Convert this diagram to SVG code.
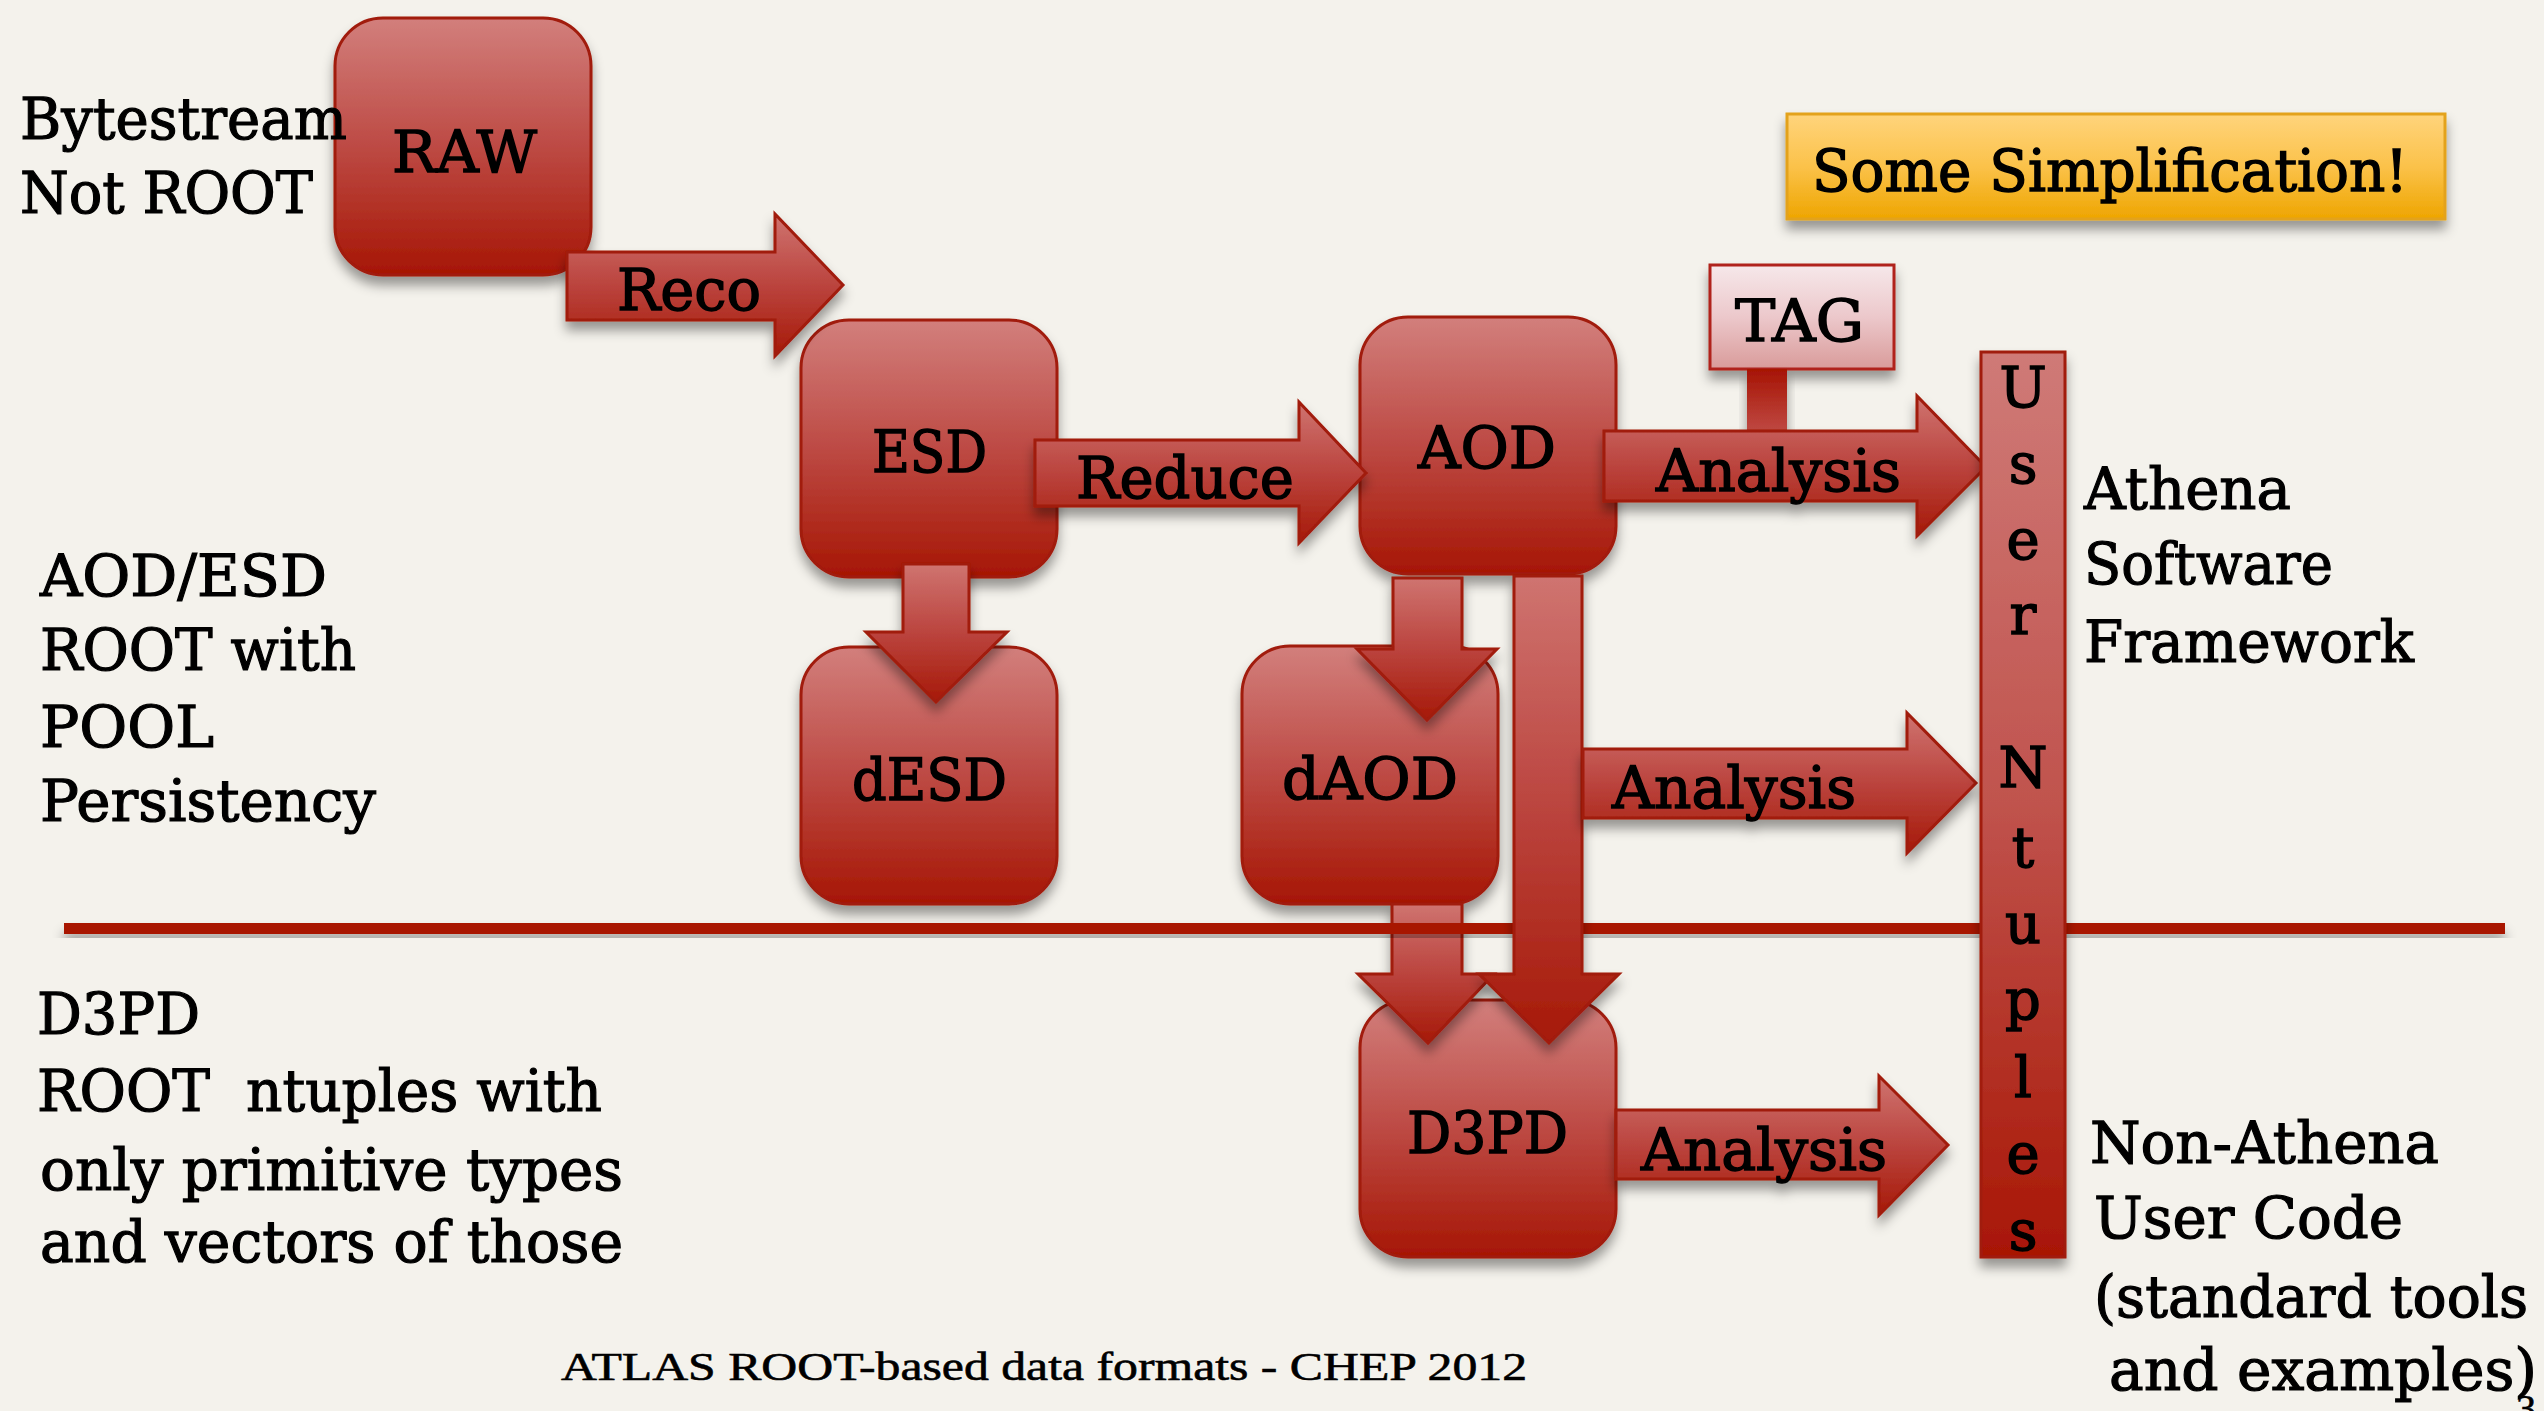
<svg xmlns="http://www.w3.org/2000/svg" width="2544" height="1411" viewBox="0 0 2544 1411">
<defs>
<linearGradient id="gBox" x1="0" y1="0" x2="0" y2="1">
<stop offset="0" stop-color="#d27f7c"/><stop offset="0.5" stop-color="#bd4a44"/><stop offset="1" stop-color="#a61604"/>
</linearGradient>
<linearGradient id="gArrow" x1="0" y1="0" x2="0" y2="1">
<stop offset="0" stop-color="#cf7470"/><stop offset="0.5" stop-color="#bb443e"/><stop offset="1" stop-color="#a61908"/>
</linearGradient>
<linearGradient id="gBar" x1="0" y1="0" x2="0" y2="1">
<stop offset="0" stop-color="#cf7a77"/><stop offset="0.5" stop-color="#c0534d"/><stop offset="1" stop-color="#a81605"/>
</linearGradient>
<linearGradient id="gTag" x1="0" y1="0" x2="0" y2="1">
<stop offset="0" stop-color="#f6e8ea"/><stop offset="0.5" stop-color="#ecc8cb"/><stop offset="1" stop-color="#d99b9a"/>
</linearGradient>
<linearGradient id="gStem" x1="0" y1="0" x2="0" y2="1">
<stop offset="0" stop-color="#a61404"/><stop offset="1" stop-color="#c04a44"/>
</linearGradient>
<linearGradient id="gNote" x1="0" y1="0" x2="0" y2="1">
<stop offset="0" stop-color="#ffd47c"/><stop offset="0.5" stop-color="#fbc24a"/><stop offset="1" stop-color="#eea500"/>
</linearGradient>
<filter id="sh" x="-20%" y="-20%" width="140%" height="150%">
<feDropShadow dx="0" dy="9" stdDeviation="6" flood-color="#000" flood-opacity="0.38"/>
</filter>
</defs>
<style>
.box{fill:url(#gBox);stroke:#a11a0b;stroke-width:3}
.arr{fill:url(#gArrow);stroke:#a11a0b;stroke-width:3;stroke-linejoin:miter}
.lbl{font-family:"DejaVu Serif",serif;font-size:58px;fill:#000;stroke:#000;stroke-width:1.4px}
.txt{font-family:"DejaVu Serif",serif;font-size:58px;fill:#000;stroke:#000;stroke-width:1.2px}
.bar{font-family:"DejaVu Serif",serif;font-size:56px;fill:#000;stroke:#000;stroke-width:1.4px;text-anchor:middle}
.foot{font-family:"Liberation Serif",serif;font-size:40px;fill:#000;stroke:#000;stroke-width:0.6px}
</style>
<rect width="2544" height="1411" fill="#f4f2ec"/>

<g id="note" filter="url(#sh)">
<rect x="1787" y="114" width="658" height="105" fill="url(#gNote)" stroke="#e3a21c" stroke-width="3"/>
<text class="lbl" x="1812" y="191" textLength="596" lengthAdjust="spacingAndGlyphs">Some Simplification!</text>
</g>

<g id="RAW" filter="url(#sh)">
<rect class="box" x="335" y="18" width="256" height="257" rx="48"/>
<text class="lbl" x="392" y="172" textLength="145" lengthAdjust="spacingAndGlyphs">RAW</text>
</g>
<g id="ESD" filter="url(#sh)">
<rect class="box" x="801" y="320" width="256" height="257" rx="48"/>
<text class="lbl" x="872" y="472" textLength="115" lengthAdjust="spacingAndGlyphs">ESD</text>
</g>
<g id="AOD" filter="url(#sh)">
<rect class="box" x="1360" y="317" width="256" height="257" rx="48"/>
<text class="lbl" x="1418" y="468" textLength="138" lengthAdjust="spacingAndGlyphs">AOD</text>
</g>
<g id="dESD" filter="url(#sh)">
<rect class="box" x="801" y="647" width="256" height="257" rx="48"/>
<text class="lbl" x="852" y="800" textLength="155" lengthAdjust="spacingAndGlyphs">dESD</text>
</g>
<g id="dAOD" filter="url(#sh)">
<rect class="box" x="1242" y="646" width="256" height="258" rx="48"/>
<text class="lbl" x="1282" y="799" textLength="176" lengthAdjust="spacingAndGlyphs">dAOD</text>
</g>
<g id="D3PD" filter="url(#sh)">
<rect class="box" x="1360" y="1000" width="256" height="257" rx="48"/>
<text class="lbl" x="1407" y="1153" textLength="161" lengthAdjust="spacingAndGlyphs">D3PD</text>
</g>
<g id="TAG" filter="url(#sh)">
<rect x="1710" y="265" width="184" height="104" fill="url(#gTag)" stroke="#b0221a" stroke-width="3"/>
<text class="lbl" x="1735" y="341" textLength="129" lengthAdjust="spacingAndGlyphs">TAG</text>
</g>

<g id="connectors">
<g id="tag-link" filter="url(#sh)">
<rect x="1747" y="369" width="40" height="64" fill="url(#gStem)"/>
</g>
<g id="reco" filter="url(#sh)">
<polygon class="arr" points="567,252 775,252 775,214 843,285 775,356 775,320 567,320"/>
<text class="lbl" x="617" y="310" textLength="144" lengthAdjust="spacingAndGlyphs">Reco</text>
</g>
<g id="reduce" filter="url(#sh)">
<polygon class="arr" points="1035,440 1299,440 1299,402 1366,473 1299,543 1299,506 1035,506"/>
<text class="lbl" x="1076" y="498" textLength="218" lengthAdjust="spacingAndGlyphs">Reduce</text>
</g>
<g id="analysis1" filter="url(#sh)">
<polygon class="arr" points="1604,431 1917,431 1917,396 1986,467 1917,536 1917,501 1604,501"/>
<text class="lbl" x="1656" y="491" textLength="245" lengthAdjust="spacingAndGlyphs">Analysis</text>
</g>
<g id="esd-desd" filter="url(#sh)">
<polygon class="arr" points="903,564 969,564 969,632 1007,632 936,702 866,632 903,632"/>
</g>
<g id="aod-daod" filter="url(#sh)">
<polygon class="arr" points="1393,578 1462,578 1462,649 1497,649 1427,720 1357,649 1393,649"/>
</g>
<g id="daod-d3pd" filter="url(#sh)">
<polygon class="arr" points="1392,904 1462,904 1462,974 1494,974 1428,1043 1358,974 1392,974"/>
</g>
<g id="divider" filter="url(#sh)">
<rect x="64" y="923" width="2441" height="11" fill="#a81505"/>
</g>
<g id="aod-d3pd" filter="url(#sh)">
<polygon class="arr" points="1514,576 1582,576 1582,974 1619,974 1549,1043 1479,974 1514,974"/>
</g>
<g id="analysis2" filter="url(#sh)">
<polygon class="arr" points="1583,749 1907,749 1907,713 1976,783 1907,853 1907,818 1583,818"/>
<text class="lbl" x="1612" y="808" textLength="244" lengthAdjust="spacingAndGlyphs">Analysis</text>
</g>
<g id="analysis3" filter="url(#sh)">
<polygon class="arr" points="1616,1110 1879,1110 1879,1076 1948,1145 1879,1215 1879,1179 1616,1179"/>
<text class="lbl" x="1641" y="1170" textLength="246" lengthAdjust="spacingAndGlyphs">Analysis</text>
</g>
</g>

<g id="UserNtuples" filter="url(#sh)">
<rect x="1981" y="352" width="84" height="905" fill="url(#gBar)" stroke="#a11a0b" stroke-width="3"/>
<text class="bar" x="2023" y="407">U</text>
<text class="bar" x="2023" y="483">s</text>
<text class="bar" x="2023" y="559">e</text>
<text class="bar" x="2023" y="634">r</text>
<text class="bar" x="2023" y="787">N</text>
<text class="bar" x="2023" y="867">t</text>
<text class="bar" x="2023" y="943">u</text>
<text class="bar" x="2023" y="1019">p</text>
<text class="bar" x="2023" y="1097">l</text>
<text class="bar" x="2023" y="1173">e</text>
<text class="bar" x="2023" y="1250">s</text>
</g>

<g id="text-left">
<text class="txt" x="20" y="139" textLength="327" lengthAdjust="spacingAndGlyphs">Bytestream</text>
<text class="txt" x="20" y="213" textLength="293" lengthAdjust="spacingAndGlyphs">Not ROOT</text>
<text class="txt" x="40" y="596" textLength="287" lengthAdjust="spacingAndGlyphs">AOD/ESD</text>
<text class="txt" x="40" y="670" textLength="316" lengthAdjust="spacingAndGlyphs">ROOT with</text>
<text class="txt" x="40" y="747" textLength="174" lengthAdjust="spacingAndGlyphs">POOL</text>
<text class="txt" x="40" y="821" textLength="336" lengthAdjust="spacingAndGlyphs">Persistency</text>
<text class="txt" x="37" y="1034" textLength="163" lengthAdjust="spacingAndGlyphs">D3PD</text>
<text class="txt" x="37" y="1111" textLength="565" lengthAdjust="spacingAndGlyphs" xml:space="preserve">ROOT  ntuples with</text>
<text class="txt" x="40" y="1190" textLength="583" lengthAdjust="spacingAndGlyphs">only primitive types</text>
<text class="txt" x="40" y="1262" textLength="583" lengthAdjust="spacingAndGlyphs">and vectors of those</text>
</g>

<g id="text-right">
<text class="txt" x="2084" y="509" textLength="207" lengthAdjust="spacingAndGlyphs">Athena</text>
<text class="txt" x="2084" y="584" textLength="249" lengthAdjust="spacingAndGlyphs">Software</text>
<text class="txt" x="2084" y="662" textLength="330" lengthAdjust="spacingAndGlyphs">Framework</text>
<text class="txt" x="2090" y="1163" textLength="349" lengthAdjust="spacingAndGlyphs">Non-Athena</text>
<text class="txt" x="2094" y="1238" textLength="309" lengthAdjust="spacingAndGlyphs">User Code</text>
<text class="txt" x="2094" y="1317" textLength="434" lengthAdjust="spacingAndGlyphs">(standard tools</text>
<text class="txt" x="2109" y="1390" textLength="428" lengthAdjust="spacingAndGlyphs">and examples)</text>
</g>

<g id="footer">
<text class="foot" x="561" y="1380" textLength="966" lengthAdjust="spacingAndGlyphs">ATLAS ROOT-based data formats - CHEP 2012</text>
<text class="foot" x="2526" y="1422" font-size="46" text-anchor="middle">3</text>
</g>
</svg>
